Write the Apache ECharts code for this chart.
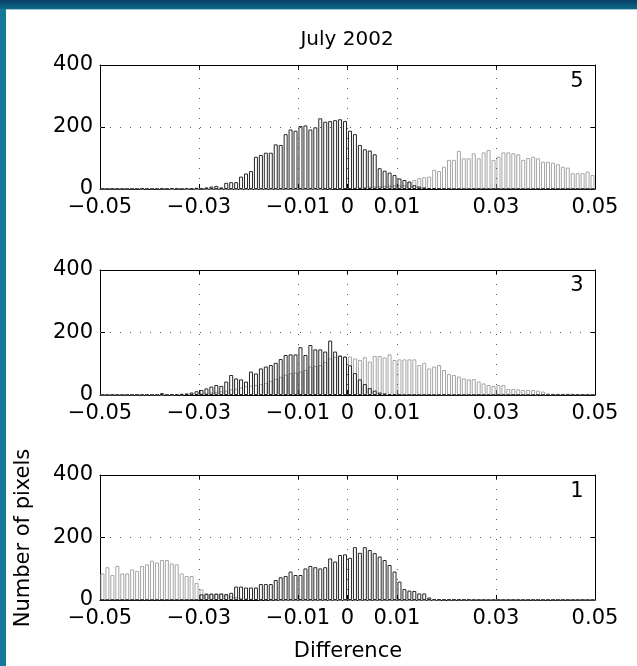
<!DOCTYPE html>
<html>
<head>
<meta charset="utf-8">
<script src="https://cdn.jsdelivr.net/npm/echarts@6/dist/echarts.min.js"></script>
<style>
  body { margin: 0; background: #fff; }
  #frameTop { position: absolute; left: 0; top: 0; width: 637px; height: 9px; background: linear-gradient(#0b3f66, #0b6a88); }
  #frameLine { position: absolute; left: 6px; top: 9px; width: 631px; height: 1px; background: #a9c6d2; }
  #frameLeft { position: absolute; left: 0; top: 9px; width: 6px; height: 657px; background: #14789a; }
  #chart { position: absolute; left: 0; top: 0; width: 637px; height: 666px; }
</style>
</head>
<body>
<div id="frameTop"></div>
<div id="frameLine"></div>
<div id="frameLeft"></div>
<div id="chart"></div>
<script>
// histogram bin centres (bin width 0.001)
var binCenters = [
  -0.0495, -0.0485, -0.0475, -0.0465, -0.0455, -0.0445, -0.0435, -0.0425, -0.0415, -0.0405,
  -0.0395, -0.0385, -0.0375, -0.0365, -0.0355, -0.0345, -0.0335, -0.0325, -0.0315, -0.0305,
  -0.0295, -0.0285, -0.0275, -0.0265, -0.0255, -0.0245, -0.0235, -0.0225, -0.0215, -0.0205,
  -0.0195, -0.0185, -0.0175, -0.0165, -0.0155, -0.0145, -0.0135, -0.0125, -0.0115, -0.0105,
  -0.0095, -0.0085, -0.0075, -0.0065, -0.0055, -0.0045, -0.0035, -0.0025, -0.0015, -0.0005,
  0.0005, 0.0015, 0.0025, 0.0035, 0.0045, 0.0055, 0.0065, 0.0075, 0.0085, 0.0095,
  0.0105, 0.0115, 0.0125, 0.0135, 0.0145, 0.0155, 0.0165, 0.0175, 0.0185, 0.0195,
  0.0205, 0.0215, 0.0225, 0.0235, 0.0245, 0.0255, 0.0265, 0.0275, 0.0285, 0.0295,
  0.0305, 0.0315, 0.0325, 0.0335, 0.0345, 0.0355, 0.0365, 0.0375, 0.0385, 0.0395,
  0.0405, 0.0415, 0.0425, 0.0435, 0.0445, 0.0455, 0.0465, 0.0475, 0.0485, 0.0495
];

// panel "5"
var p5Dark = [
  0, 0, 0, 0, 0, 0, 0, 0, 2, 0,
  0, 0, 1, 0, 3, 1, 0, 3, 1, 4,
  1, 5, 8, 10, 5, 20, 22, 22, 40, 50,
  58, 104, 110, 117, 117, 144, 142, 177, 192, 188,
  203, 205, 192, 199, 228, 217, 219, 222, 225, 219,
  188, 177, 142, 128, 124, 112, 67, 59, 53, 45,
  34, 29, 24, 12, 8, 5, 3, 2, 1, 0,
  0, 0, 0, 0, 0, 0, 0, 0, 0, 0,
  0, 0, 0, 0, 0, 0, 0, 0, 0, 0,
  0, 0, 0, 0, 0, 0, 0, 0, 0, 0
];
var p5Light = [
  0, 0, 0, 0, 0, 0, 0, 0, 0, 0,
  0, 0, 0, 0, 0, 0, 0, 0, 0, 0,
  0, 0, 0, 0, 0, 0, 0, 0, 0, 0,
  0, 0, 0, 0, 0, 0, 0, 0, 0, 0,
  0, 0, 0, 0, 0, 1, 1, 2, 2, 3,
  3, 4, 5, 6, 7, 8, 9, 10, 11, 12,
  12, 13, 22, 29, 35, 38, 40, 62, 58, 72,
  94, 94, 123, 99, 99, 115, 99, 118, 126, 94,
  104, 118, 118, 115, 112, 94, 100, 104, 99, 88,
  88, 85, 80, 72, 69, 51, 51, 51, 56, 45
];

// panel "3"
var p3Dark = [
  0, 0, 0, 0, 0, 0, 0, 0, 0, 0,
  0, 0, 6, 0, 2, 3, 4, 5, 8, 12,
  16, 21, 27, 32, 29, 43, 64, 53, 50, 43,
  75, 69, 85, 91, 96, 103, 115, 128, 130, 130,
  153, 128, 160, 146, 146, 139, 174, 139, 126, 123,
  95, 70, 50, 35, 22, 14, 8, 5, 3, 2,
  1, 0, 0, 0, 0, 0, 0, 0, 0, 0,
  0, 0, 0, 0, 0, 0, 0, 0, 0, 0,
  0, 0, 0, 0, 0, 0, 0, 0, 0, 0,
  0, 0, 0, 0, 0, 0, 0, 0, 0, 0
];
var p3Light = [
  0, 0, 0, 0, 0, 0, 0, 0, 0, 0,
  0, 0, 1, 1, 1, 2, 2, 3, 3, 4,
  5, 6, 8, 10, 12, 14, 18, 20, 24, 28,
  30, 32, 35, 38, 45, 52, 58, 65, 70, 72,
  75, 80, 91, 93, 96, 105, 117, 122, 126, 123,
  123, 117, 112, 121, 107, 125, 125, 120, 130, 112,
  114, 114, 114, 114, 96, 103, 85, 91, 96, 80,
  67, 64, 59, 53, 50, 51, 43, 37, 32, 29,
  32, 32, 19, 19, 18, 16, 16, 16, 14, 11,
  5, 4, 4, 4, 4, 4, 3, 3, 3, 3
];

// panel "1"
var p1Dark = [
  0, 0, 0, 0, 0, 0, 0, 0, 0, 0,
  0, 0, 0, 0, 0, 0, 0, 0, 0, 0,
  18, 20, 20, 20, 21, 19, 23, 43, 43, 40,
  40, 40, 51, 51, 51, 64, 73, 77, 91, 80,
  80, 101, 109, 105, 101, 105, 133, 123, 144, 146,
  135, 169, 151, 169, 160, 150, 139, 128, 112, 91,
  59, 35, 30, 29, 21, 21, 8, 3, 2, 1,
  1, 1, 1, 1, 1, 0, 0, 0, 0, 0,
  0, 0, 0, 0, 0, 0, 0, 0, 0, 0,
  0, 0, 0, 0, 0, 0, 0, 0, 0, 0
];
var p1Light = [
  85, 105, 80, 109, 85, 85, 98, 93, 109, 114,
  126, 120, 128, 128, 117, 114, 85, 77, 77, 55,
  34, 21, 21, 21, 19, 15, 12, 9, 7, 5,
  4, 3, 2, 2, 1, 1, 0, 0, 0, 0,
  0, 0, 0, 0, 0, 0, 0, 0, 0, 0,
  0, 0, 0, 0, 0, 0, 0, 0, 0, 0,
  0, 0, 0, 0, 0, 0, 0, 0, 0, 0,
  0, 0, 0, 0, 0, 0, 0, 0, 0, 0,
  0, 0, 0, 0, 0, 0, 0, 0, 0, 0,
  0, 0, 0, 0, 0, 0, 0, 0, 0, 0
];

var xTicks = [-0.05, -0.03, -0.01, 0, 0.01, 0.03, 0.05];
var xGridLines = [-0.03, -0.01, 0, 0.01, 0.03];
var panelLabels = ['5', '3', '1'];
var panels = [
  { dark: p5Dark, light: p5Light },
  { dark: p3Dark, light: p3Light },
  { dark: p1Dark, light: p1Light }
];

var FONT = 'DejaVu Sans';
var gridTops = [65, 270, 475];
var gridHeights = [124, 125, 125];

function pairs(vals) {
  return binCenters.map(function (c, i) { return [c, vals[i]]; });
}

var grids = [], xAxes = [], yAxes = [], series = [], graphics = [];

gridTops.forEach(function (top, g) {
  grids.push({ left: 100, right: 42, top: top, height: gridHeights[g] });

  // bottom x axis with labels
  xAxes.push({
    type: 'value', gridIndex: g, min: -0.05, max: 0.05, interval: 0.01, position: 'bottom',
    axisLine: { show: true, onZero: false, lineStyle: { color: '#000', width: 1 } },
    axisTick: { show: true, inside: true, length: 5, customValues: xTicks, lineStyle: { color: '#000' } },
    axisLabel: {
      show: true, customValues: xTicks, margin: 8, color: '#000', fontFamily: FONT, fontSize: 21,
      formatter: function (v) { return v < 0 ? '\u2212' + String(Math.abs(v)) : String(v); }
    },
    splitLine: { show: false }
  });
  // top x axis: box edge + ticks
  xAxes.push({
    type: 'value', gridIndex: g, min: -0.05, max: 0.05, interval: 0.01, position: 'top',
    axisLine: { show: true, onZero: false, lineStyle: { color: '#000', width: 1 } },
    axisTick: { show: true, inside: true, length: 5, customValues: xTicks, lineStyle: { color: '#000' } },
    axisLabel: { show: false },
    splitLine: { show: false }
  });
  yAxes.push({
    type: 'value', gridIndex: g, min: 0, max: 400, interval: 200, position: 'left',
    axisLine: { show: true, onZero: false, lineStyle: { color: '#000', width: 1 } },
    axisTick: { show: true, inside: true, length: 5, lineStyle: { color: '#000' } },
    axisLabel: { show: true, margin: 7, color: '#000', fontFamily: FONT, fontSize: 21 },
    splitLine: { show: false }
  });
  yAxes.push({
    type: 'value', gridIndex: g, min: 0, max: 400, interval: 200, position: 'right',
    axisLine: { show: true, onZero: false, lineStyle: { color: '#000', width: 1 } },
    axisTick: { show: true, inside: true, length: 5, lineStyle: { color: '#000' } },
    axisLabel: { show: false },
    splitLine: { show: false }
  });

  var gridLineData = xGridLines.map(function (v) { return { xAxis: v }; });
  gridLineData.push({ yAxis: 200 });

  series.push({
    type: 'bar', xAxisIndex: 2 * g, yAxisIndex: 2 * g,
    data: pairs(panels[g].light),
    barWidth: 4, barGap: '-100%',
    itemStyle: { color: 'rgba(255,255,255,0)', borderColor: '#a6a6a6', borderWidth: 1 },
    silent: true,
    markLine: {
      silent: true, symbol: ['none', 'none'], label: { show: false },
      lineStyle: { color: '#555', type: [1, 9], width: 1 },
      data: gridLineData
    }
  });
  series.push({
    type: 'bar', xAxisIndex: 2 * g, yAxisIndex: 2 * g,
    data: pairs(panels[g].dark),
    barWidth: 4, barGap: '-100%',
    itemStyle: { color: 'rgba(255,255,255,0)', borderColor: '#262626', borderWidth: 1 },
    silent: true
  });

  graphics.push({
    type: 'text', x: 577, y: top + (g === 0 ? 17 : g === 1 ? 16 : 17),
    style: { text: panelLabels[g], font: '21px "' + FONT + '"', fill: '#000', textAlign: 'center', textVerticalAlign: 'middle' }
  });
});

graphics.push({
  type: 'text', x: 347, y: 40,
  style: { text: 'July 2002', font: '20px "' + FONT + '"', fill: '#000', textAlign: 'center', textVerticalAlign: 'middle' }
});
graphics.push({
  type: 'text', x: 348, y: 652,
  style: { text: 'Difference', font: '21px "' + FONT + '"', fill: '#000', textAlign: 'center', textVerticalAlign: 'middle' }
});
graphics.push({
  type: 'text', x: 24, y: 538, rotation: Math.PI / 2,
  style: { text: 'Number of pixels', font: '21px "' + FONT + '"', fill: '#000', textAlign: 'center', textVerticalAlign: 'middle' }
});

var chart = echarts.init(document.getElementById('chart'), null, { renderer: 'canvas' });
chart.setOption({
  animation: false,
  backgroundColor: 'transparent',
  grid: grids,
  xAxis: xAxes,
  yAxis: yAxes,
  series: series,
  graphic: graphics
});
</script>
</body>
</html>
